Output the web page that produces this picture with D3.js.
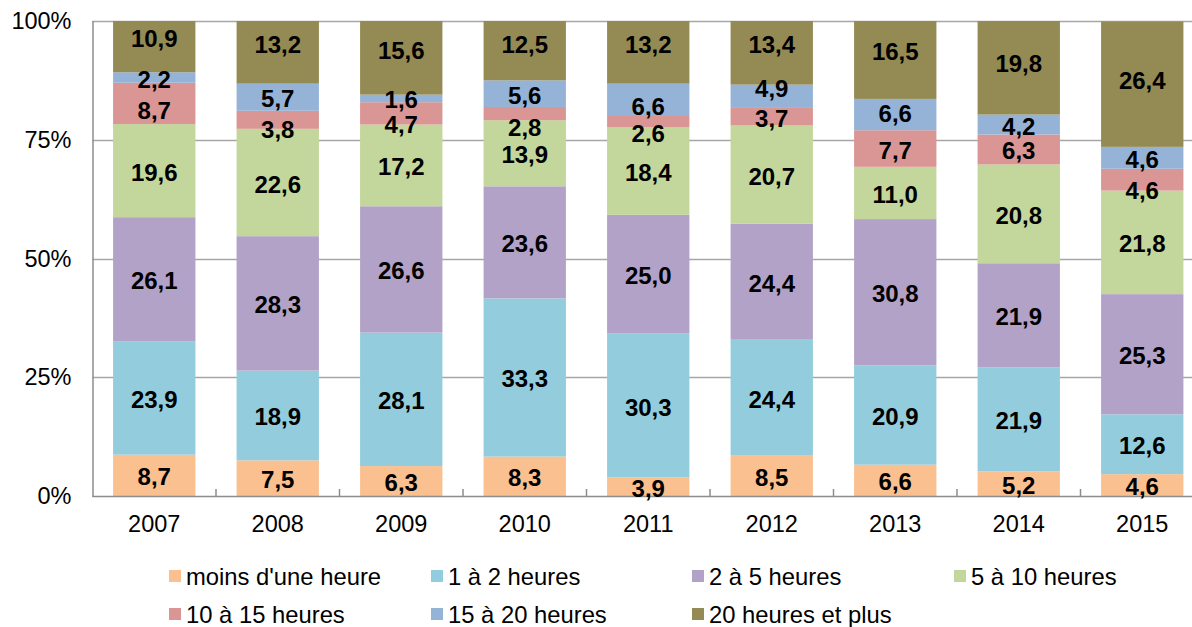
<!DOCTYPE html>
<html>
<head>
<meta charset="utf-8">
<script src="https://cdn.jsdelivr.net/npm/d3@7"></script>
<style>
  html, body { margin: 0; padding: 0; background: #fff; }
  svg { display: block; font-family: "Liberation Sans", Arial, sans-serif; }
</style>
</head>
<body>
<svg id="chart" width="1192" height="627"></svg>
<script>
// Répartition du temps hebdomadaire, par année (en %)
const years = ["2007", "2008", "2009", "2010", "2011", "2012", "2013", "2014", "2015"];
const seriesNames = ["moins d'une heure", "1 à 2 heures", "2 à 5 heures", "5 à 10 heures",
                     "10 à 15 heures", "15 à 20 heures", "20 heures et plus"];
const moinsUneHeure = [8.7, 7.5, 6.3, 8.3, 3.9, 8.5, 6.6, 5.2, 4.6];
const unADeux       = [23.9, 18.9, 28.1, 33.3, 30.3, 24.4, 20.9, 21.9, 12.6];
const deuxACinq     = [26.1, 28.3, 26.6, 23.6, 25.0, 24.4, 30.8, 21.9, 25.3];
const cinqADix      = [19.6, 22.6, 17.2, 13.9, 18.4, 20.7, 11.0, 20.8, 21.8];
const dixAQuinze    = [8.7, 3.8, 4.7, 2.8, 2.6, 3.7, 7.7, 6.3, 4.6];
const quinzeAVingt  = [2.2, 5.7, 1.6, 5.6, 6.6, 4.9, 6.6, 4.2, 4.6];
const vingtEtPlus   = [10.9, 13.2, 15.6, 12.5, 13.2, 13.4, 16.5, 19.8, 26.4];
const yTicks = [0, 25, 50, 75, 100];

const colors = ["#FAC090", "#93CDDD", "#B3A2C7", "#C3D69B", "#D99694", "#95B3D7", "#948A54"];

// vertical nudges (px) for labels moved off crowded segments
const labelNudge = {
  "2007|6": -10, "2008|6": -9.5, "2009|6": -8.5, "2010|6": -7.5, "2011|6": -9.5,
  "2012|6": -9.5, "2013|6": -9.5, "2014|6": -5.5, "2015|6": -5.5,
  "2011|5": 5.5, "2012|5": -9.5, "2013|5": -2.5,
  "2007|4": 5.5, "2008|4": 8.5, "2009|4": 9.5, "2010|4": 12.5, "2011|4": 10.5, "2015|4": 9.5
};

const seriesValues = [moinsUneHeure, unADeux, deuxACinq, cinqADix, dixAQuinze, quinzeAVingt, vingtEtPlus];
const rows = years.map((yr, i) => {
  const r = { year: yr };
  seriesNames.forEach((s, k) => { r[s] = seriesValues[k][i]; });
  return r;
});

const svg = d3.select("#chart");
const plotLeft = 92.5, plotTop = 21, plotBottom = 496;
const step = 123.5;
const plotRight = plotLeft + step * years.length;

const x = d3.scaleBand().domain(years).range([plotLeft, plotRight])
  .paddingInner(1 / 3).paddingOuter(1 / 6);
const y = d3.scaleLinear().domain([0, 100]).range([plotBottom, plotTop]);

// clip for the plot area
svg.append("defs").append("clipPath").attr("id", "plotClip")
  .append("rect").attr("x", plotLeft).attr("y", plotTop)
  .attr("width", plotRight - plotLeft).attr("height", plotBottom - plotTop);

// horizontal gridlines
svg.append("g").selectAll("line").data(yTicks.filter(d => d > 0)).join("line")
  .attr("x1", plotLeft).attr("x2", 1192)
  .attr("y1", d => Math.round(y(d)) + 0.5).attr("y2", d => Math.round(y(d)) + 0.5)
  .attr("stroke", "#a6a6a6").attr("stroke-width", 1.5);

// stacked bars
const stack = d3.stack().keys(seriesNames);
const stacked = stack(rows);

const barsG = svg.append("g").attr("clip-path", "url(#plotClip)");
barsG.selectAll("g").data(stacked).join("g")
  .attr("fill", (d, i) => colors[i])
  .selectAll("rect").data(d => d).join("rect")
  .attr("x", d => x(d.data.year))
  .attr("width", x.bandwidth())
  .attr("y", d => y(Math.min(100, d[1])))
  .attr("height", d => y(d[0]) - y(Math.min(100, d[1])));

// y axis
const yAxis = d3.axisLeft(y).tickValues(yTicks).tickFormat(d => d + "%").tickSize(0).tickPadding(21);
const yg = svg.append("g").attr("transform", `translate(${plotLeft},0)`).call(yAxis);
yg.select(".domain").remove();
yg.selectAll("text").attr("font-size", "23.5px").attr("fill", "#000")
  .attr("font-family", "Liberation Sans, Arial, sans-serif");
svg.append("line").attr("x1", plotLeft + 0.5).attr("x2", plotLeft + 0.5)
  .attr("y1", plotTop).attr("y2", plotBottom + 1)
  .attr("stroke", "#8c8c8c").attr("stroke-width", 1.5);

// x axis
const xAxis = d3.axisBottom(x).tickSize(0).tickPadding(19);
const xg = svg.append("g").attr("transform", `translate(0,${plotBottom})`).call(xAxis);
xg.select(".domain").remove();
xg.selectAll("text").attr("font-size", "23.5px").attr("fill", "#000")
  .attr("font-family", "Liberation Sans, Arial, sans-serif");
svg.append("line").attr("x1", plotLeft).attr("x2", 1192)
  .attr("y1", plotBottom + 0.5).attr("y2", plotBottom + 0.5)
  .attr("stroke", "#8c8c8c").attr("stroke-width", 1.5);
// category boundary ticks
svg.append("g").selectAll("line").data(d3.range(1, years.length)).join("line")
  .attr("x1", i => plotLeft + i * x.step()).attr("x2", i => plotLeft + i * x.step())
  .attr("y1", plotBottom - 7).attr("y2", plotBottom)
  .attr("stroke", "#8c8c8c").attr("stroke-width", 1.5);

// value labels
const labelsG = svg.append("g");
stacked.forEach((layer, k) => {
  labelsG.selectAll(null).data(layer).join("text")
    .attr("x", d => x(d.data.year) + x.bandwidth() / 2)
    .attr("y", d => {
      const mid = (y(d[0]) + y(Math.min(100, d[1]))) / 2;
      return mid + 1.5 + (labelNudge[d.data.year + "|" + k] || 0);
    })
    .attr("text-anchor", "middle")
    .attr("dominant-baseline", "central")
    .attr("font-size", "24px").attr("font-weight", "bold").attr("fill", "#000")
    .text(d => d3.format(".1f")(d.data[seriesNames[k]]).replace(".", ","));
});

// legend
const legendPos = [
  [169, 576], [431, 576], [692, 576], [954, 576],
  [169, 614], [431, 614], [692, 614]
];
const lg = svg.append("g").selectAll("g").data(seriesNames).join("g")
  .attr("transform", (d, i) => `translate(${legendPos[i][0]},${legendPos[i][1]})`);
lg.append("rect").attr("x", 0).attr("y", -6).attr("width", 12).attr("height", 12)
  .attr("fill", (d, i) => colors[i]);
lg.append("text").attr("x", 17).attr("y", 0).attr("dominant-baseline", "central")
  .attr("font-size", "23.8px").attr("fill", "#000").text(d => d);
</script>
</body>
</html>
